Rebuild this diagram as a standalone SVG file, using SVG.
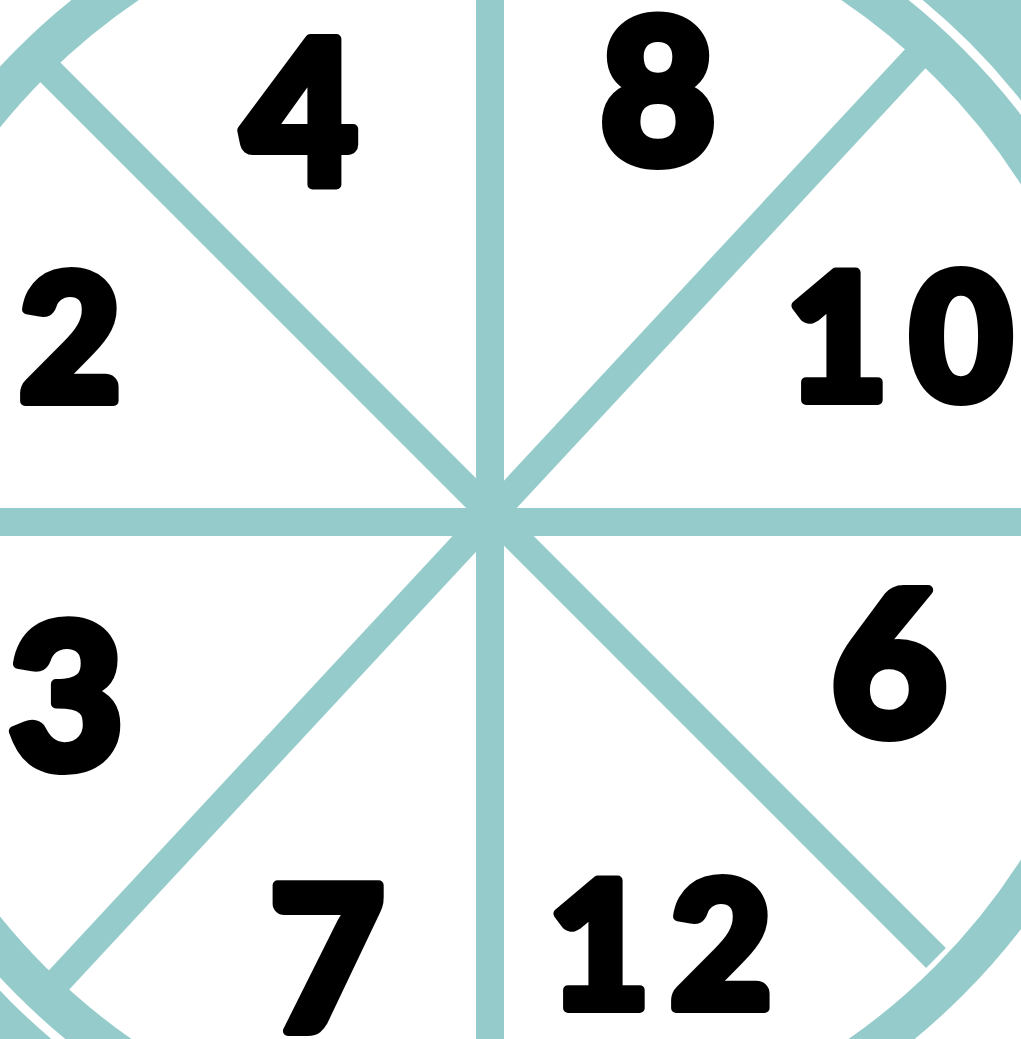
<svg xmlns="http://www.w3.org/2000/svg" width="1021" height="1039" viewBox="0 0 1021 1039">
  <style>
    .teal { fill: #95CCCB; }
    .spoke { stroke: #95CCCB; stroke-width: 28; stroke-linecap: butt; fill: none; }
    .ring { stroke: #95CCCB; stroke-width: 40; fill: none; }
    .num { font-family: "Lato", "Inter", "DejaVu Sans", sans-serif; font-weight: 900; fill: #000; stroke: #000; stroke-width: 10; stroke-linejoin: round; text-anchor: middle; }
    .big { font-size: 200px; }
    .small { font-size: 176px; }
  </style>
  <rect width="1021" height="1039" fill="#ffffff"/>
  <g id="outer-frame">
    <polygon class="teal" points="840,0 1021,0 1021,210"/>
    <polygon class="teal" points="0,840 0,1039 200,1039"/>
    <circle cx="490" cy="522" r="678" fill="#ffffff"/>
  </g>
  <g id="wheel-ring">
    <circle class="ring" cx="490" cy="522" r="649"/>
  </g>
  <g id="spokes">
    <line class="spoke" x1="490" y1="0" x2="490" y2="1039"/>
    <line class="spoke" x1="0" y1="522" x2="1021" y2="522"/>
    <line class="spoke" x1="40" y1="62" x2="936" y2="958"/>
    <line class="spoke" x1="928" y1="45" x2="46" y2="994"/>
  </g>
  <g id="numbers">
    <g id="n4"><text class="num big" x="300" y="185">4</text></g>
    <g id="n8"><text class="num big" x="658" y="163">8</text></g>
    <g id="n2"><text class="num small" x="70" y="401">2</text></g>
    <g id="n10"><text class="num small" y="400"><tspan x="837">1</tspan><tspan x="961">0</tspan></text></g>
    <g id="n3"><text class="num big" x="66" y="768">3</text></g>
    <g id="n6"><text class="num big" x="889" y="735">6</text></g>
    <g id="n7"><text class="num big" x="327" y="1031">7</text></g>
    <g id="n12"><text class="num small" y="1008"><tspan x="599">1</tspan><tspan x="721">2</tspan></text></g>
  </g>
</svg>
